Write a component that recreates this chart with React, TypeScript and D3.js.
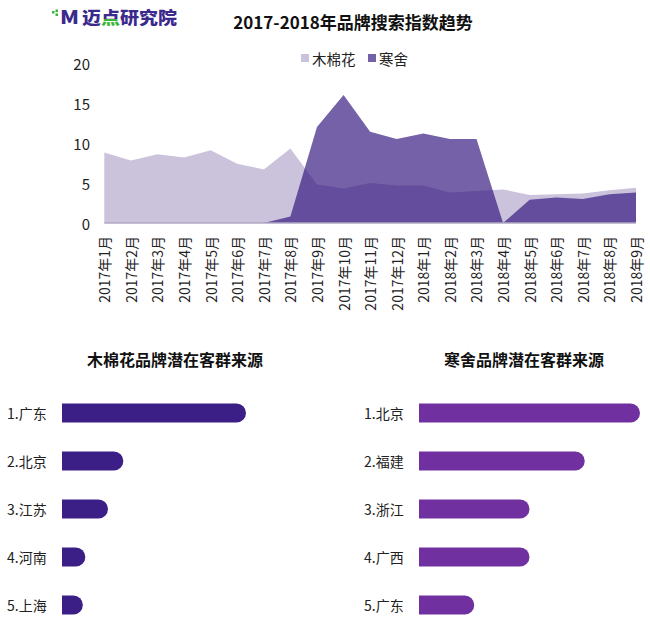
import * as d3 from 'd3'

const months = [
  '2017年1月', '2017年2月', '2017年3月', '2017年4月', '2017年5月', '2017年6月', '2017年7月',
  '2017年8月', '2017年9月', '2017年10月', '2017年11月', '2017年12月',
  '2018年1月', '2018年2月', '2018年3月', '2018年4月', '2018年5月', '2018年6月',
  '2018年7月', '2018年8月', '2018年9月',
]
const mumianhua = [8.8, 7.8, 8.6, 8.2, 9.1, 7.4, 6.7, 9.3, 4.8, 4.3, 5.0, 4.7, 4.7, 3.8, 4.0, 4.2, 3.5, 3.6, 3.7, 4.1, 4.4]
const hanshe = [0, 0, 0, 0, 0, 0, 0, 0.8, 12.0, 16.0, 11.4, 10.5, 11.2, 10.5, 10.5, 0, 2.9, 3.2, 3.0, 3.6, 3.8]
const yTicks = [0, 5, 10, 15, 20]
const seriesNames = ['木棉花', '寒舍']

const leftRegions = ['1.广东', '2.北京', '3.江苏', '4.河南', '5.上海']
const leftValues = [30, 10, 7.5, 3.8, 3.4]
const rightRegions = ['1.北京', '2.福建', '3.浙江', '4.广西', '5.广东']
const rightValues = [40, 30, 20, 20, 10]

const FONT = '"Noto Sans CJK SC", "Microsoft YaHei", sans-serif'
const W = 650
const H = 625

// half-rounded bar: flat on the left, round cap on the right
function barPath(x0: number, x1: number, yc: number, h: number) {
  const r = Math.min(h / 2, (x1 - x0))
  const top = yc - h / 2
  return `M${x0},${top}H${x1 - r}A${r},${r} 0 0 1 ${x1},${top + r}` +
    `V${top + h - r}A${r},${r} 0 0 1 ${x1 - r},${top + h}H${x0}Z`
}

const BarPanel = ({ title, cx, labelX, barX, regions, values, max, maxLen, color }) => {
  const yb = d3.scalePoint().domain(regions).range([413, 605])
  const xb = d3.scaleLinear().domain([0, max]).range([barX, barX + maxLen])
  return (
    <g>
      <text x={cx} y={359} textAnchor="middle" dominantBaseline="central"
        fontSize={16} fontWeight="bold" fill="#111">{title}</text>
      {regions.map((r, i) => (
        <g key={r}>
          <text x={labelX} y={yb(r)} dominantBaseline="central" fontSize={14} fill="#222">{r}</text>
          <path d={barPath(xb(0), xb(values[i]), yb(r), 19)} fill={color} />
        </g>
      ))}
    </g>
  )
}

const App = () => {
  const x = d3.scalePoint().domain(months).range([104.3, 636])
  const y = d3.scaleLinear().domain([0, 20]).range([223, 63])
  const area = d3.area<number>()
    .x((_, i) => x(months[i]))
    .y0(y(0))
    .y1(d => y(d))

  return (
    <svg width={W} height={H} style={{ position: 'absolute', left: 0, top: 0 }} fontFamily={FONT}>
      <defs>
        <linearGradient id="dian" x1="0" y1="0" x2="0" y2="1">
          <stop offset="0.6" stopColor="#3b2a8c" />
          <stop offset="0.6" stopColor="#3cb43c" />
        </linearGradient>
      </defs>

      {/* logo */}
      <g>
        <rect x={52} y={11} width={2.5} height={2.5} fill="#3cb43c" />
        <rect x={55.5} y={13.5} width={2.5} height={2.5} fill="#3cb43c" />
        <rect x={55.5} y={9.5} width={2.5} height={2.5} fill="#3cb43c" />
        <text x={60} y={24} fontSize={18} fontWeight={900} fill="#3b2a8c"
          textLength={19} lengthAdjust="spacingAndGlyphs">M</text>
        <text x={82} y={24} fontSize={17} fontWeight={900} fill="#3b2a8c"
          textLength={95} lengthAdjust="spacingAndGlyphs">
          迈<tspan fill="url(#dian)">点</tspan>研究院
        </text>
      </g>

      <text x={353} y={21} textAnchor="middle" dominantBaseline="central"
        fontSize={17} fontWeight="bold" fill="#111">2017-2018年品牌搜索指数趋势</text>

      {/* legend */}
      <rect x={301} y={54} width={8} height={8} fill="#cbc3dc" />
      <text x={312} y={58} dominantBaseline="central" fontSize={14.5} fill="#222">{seriesNames[0]}</text>
      <rect x={368} y={54} width={8} height={8} fill="#30147c" fillOpacity={0.67} />
      <text x={379} y={58} dominantBaseline="central" fontSize={14.5} fill="#222">{seriesNames[1]}</text>

      {/* y axis labels */}
      {yTicks.map(t => (
        <text key={t} x={90} y={y(t)} textAnchor="end" dominantBaseline="central"
          fontSize={15} fill="#222">{t}</text>
      ))}

      {/* areas */}
      <path d={area(mumianhua)} fill="#cbc3dc" />
      <path d={area(hanshe)} fill="#30147c" fillOpacity={0.67} />
      <line x1={x(months[0])} x2={x(months[months.length - 1])} y1={y(0)} y2={y(0)}
        stroke="#b0a8c4" strokeWidth={1.5} />

      {/* x axis labels */}
      {months.map(m => (
        <text key={m} transform={`translate(${x(m)},${236}) rotate(-90)`} textAnchor="end"
          dominantBaseline="central" fontSize={14} fill="#222">{m}</text>
      ))}

      <BarPanel title="木棉花品牌潜在客群来源" cx={175} labelX={7} barX={62}
        regions={leftRegions} values={leftValues} max={30} maxLen={184} color="#3b1f87" />
      <BarPanel title="寒舍品牌潜在客群来源" cx={524} labelX={364} barX={419}
        regions={rightRegions} values={rightValues} max={40} maxLen={221} color="#7030a0" />
    </svg>
  )
}

export default App
